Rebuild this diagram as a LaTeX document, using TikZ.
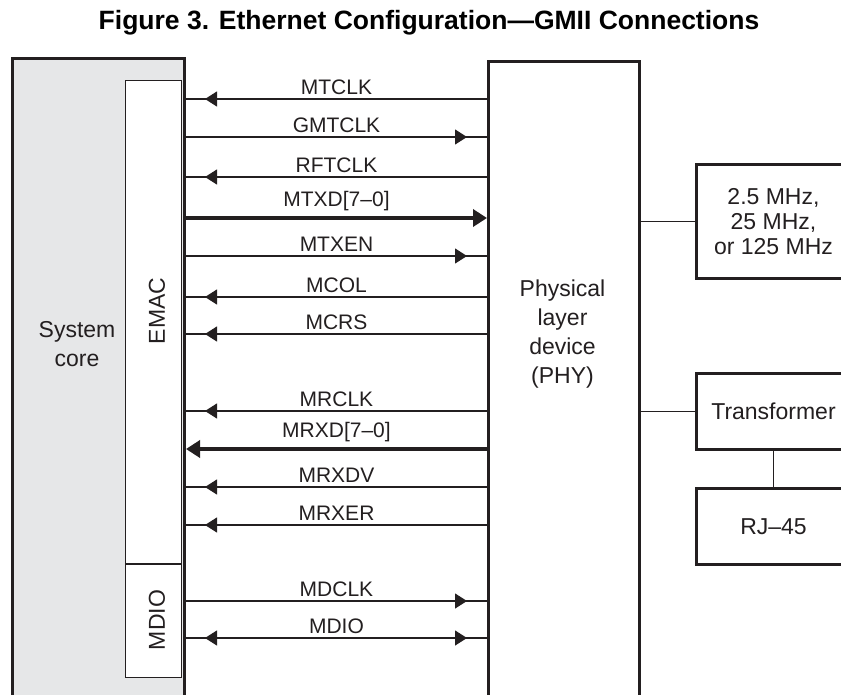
\documentclass[tikz,border=0pt]{standalone}
\usepackage{fontspec}
\setmainfont{Liberation Sans}
\usepackage{tikz}
\usetikzlibrary{arrows.meta}
\definecolor{coregray}{HTML}{E6E7E8}
\definecolor{inkblack}{HTML}{231F20}

\begin{document}
\begin{tikzpicture}[x=1pt, y=-1pt,
        box/.style={draw=inkblack, line width=3pt, inner sep=0pt},
        subbox/.style={draw=inkblack, line width=1pt, fill=white, inner sep=0pt},
        boxtext/.style={font=\fontsize{23}{29}\selectfont, align=center, text=inkblack, inner sep=0pt},
        sidetext/.style={font=\fontsize{23}{25}\selectfont, align=center, text=inkblack},
        siglab/.style={midway, anchor=base, yshift=5pt, inner sep=0pt, text=inkblack, font=\fontsize{21}{25}\selectfont},
        buslab/.style={siglab, yshift=7pt},
        wire/.style={draw=inkblack, line width=1.2pt},
        sigin/.style={wire, postaction={draw, -{Triangle[length=12pt,width=15pt]}, shorten >=19pt}},
        sigout/.style={wire, postaction={draw, -{Triangle[length=12pt,width=15pt]}, shorten >=20pt}},
        sigboth/.style={wire, postaction={draw, {Triangle[length=12pt,width=15pt]}-{Triangle[length=12pt,width=15pt]}, shorten <=19pt, shorten >=20pt}},
        bus/.style={draw=inkblack, line width=4.5pt, -{Triangle[length=14pt,width=17pt]}}]

        \useasboundingbox (0,0) rectangle (841,694);
        \clip (0,0) rectangle (841,694);

        % Title
        \node[anchor=base, inner sep=0pt, font=\bfseries\fontsize{26.5}{30}\selectfont] (title) at (429,29) {Figure 3. Ethernet Configuration—GMII Connections};

        % System core
        \node[box, fill=coregray, anchor=north west, minimum width=172pt, minimum height=680pt] (sys) at (11,57) {};
        \node[boxtext] (systext) at (77,344) {System\\core};

        % EMAC and MDIO
        \node[subbox, anchor=north east, minimum width=56.5pt, minimum height=483pt] (emac) at (182,80) {};
        \node[subbox, anchor=north, minimum width=56.5pt, minimum height=113pt] (mdio) at (emac.south) {};
        \node[boxtext, rotate=90] (emactext) at (157,311) {EMAC};
        \node[boxtext, rotate=90] (mdiotext) at (157,620) {MDIO};

        % Physical layer device
        \node[box, fill=white, anchor=north west, minimum width=151pt, minimum height=680pt] (phy) at (487,60) {};
        \node[boxtext] (phytext) at (562.5,334) {Physical\\layer\\device\\(PHY)};

        % Clock, transformer, jack
        \node[box, sidetext, anchor=north west, minimum width=154pt, minimum height=114pt] (clk) at (695,163) {2.5 MHz,\\25 MHz,\\or 125 MHz};
        \node[box, sidetext, anchor=north west, minimum width=154pt, minimum height=76pt] (xfmr) at (695,372) {Transformer};
        \node[box, sidetext, anchor=north west, minimum width=154pt, minimum height=76pt] (rj) at (695,487) {RJ–45};

        \draw[wire] (phy.east |- clk.west) -- (clk.west);
        \draw[wire] (phy.east |- xfmr.west) -- (xfmr.west);
        \draw[wire] (xfmr.south) -- (rj.north);

        % Transmit side
        \draw[sigin] (phy.west |- 0,99) -- (sys.east |- 0,99) node[siglab] (lmtclk) {MTCLK};
        \draw[sigout] (sys.east |- 0,137) -- (phy.west |- 0,137) node[siglab] (lgmtclk) {GMTCLK};
        \draw[sigin] (phy.west |- 0,177) -- (sys.east |- 0,177) node[siglab] (lrftclk) {RFTCLK};
        \draw[bus] (sys.east |- 0,218) -- (phy.west |- 0,218) node[buslab] (lmtxd) {MTXD[7–0]};
        \draw[sigout] (sys.east |- 0,256) -- (phy.west |- 0,256) node[siglab] (lmtxen) {MTXEN};
        \draw[sigin] (phy.west |- 0,297) -- (sys.east |- 0,297) node[siglab] (lmcol) {MCOL};
        \draw[sigin] (phy.west |- 0,334) -- (sys.east |- 0,334) node[siglab] (lmcrs) {MCRS};

        % Receive side
        \draw[sigin] (phy.west |- 0,411) -- (sys.east |- 0,411) node[siglab] (lmrclk) {MRCLK};
        \draw[bus] (phy.west |- 0,449) -- (sys.east |- 0,449) node[buslab] (lmrxd) {MRXD[7–0]};
        \draw[sigin] (phy.west |- 0,487) -- (sys.east |- 0,487) node[siglab] (lmrxdv) {MRXDV};
        \draw[sigin] (phy.west |- 0,525) -- (sys.east |- 0,525) node[siglab] (lmrxer) {MRXER};

        % Management
        \draw[sigout] (sys.east |- 0,601) -- (phy.west |- 0,601) node[siglab] (lmdclk) {MDCLK};
        \draw[sigboth] (sys.east |- 0,638) -- (phy.west |- 0,638) node[siglab] (lmdio) {MDIO};
\end{tikzpicture}
\end{document}
